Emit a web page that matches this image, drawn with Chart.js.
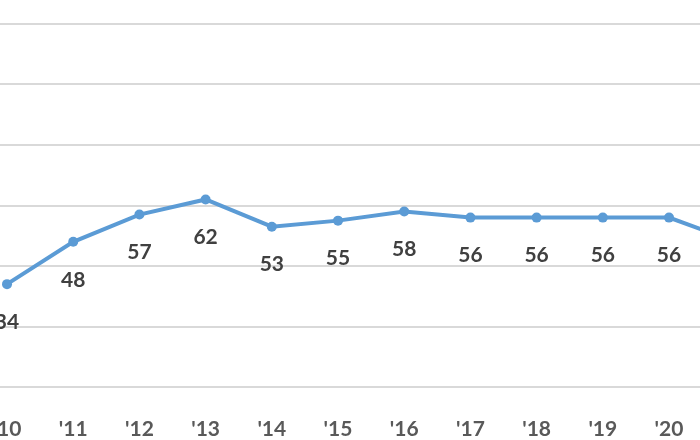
<!DOCTYPE html>
<html>
<head>
<meta charset="utf-8">
<script src="https://cdn.jsdelivr.net/npm/chart.js@4"></script>
<style>
  html, body { margin: 0; padding: 0; background: #fff; overflow: hidden; }
  #wrap { width: 700px; height: 440px; position: relative; }
</style>
</head>
<body>
<div id="wrap"><canvas id="chart"></canvas></div>
<script>
    // Годы и значения
    const years = ["'10", "'11", "'12", "'13", "'14", "'15", "'16", "'17", "'18", "'19", "'20", "'21"];
    const values = [34, 48, 57, 62, 53, 55, 58, 56, 56, 56, 56, 48];
    const yTicks = [0, 20, 40, 60, 80, 100, 120];

    const points = values.map((v, i) => ({ x: i, y: v }));
    const xMin = -0.106, xMax = 10.468;

    // Подписи значений под точками
    const valueLabels = {
        id: 'valueLabels',
        afterDatasetsDraw(chart) {
            const ctx = chart.ctx;
            const xs = chart.scales.x, ys = chart.scales.y;
            ctx.save();
            ctx.font = 'bold 21px Lato';
            ctx.fillStyle = '#404040';
            ctx.textAlign = 'center';
            ctx.textBaseline = 'middle';
            values.forEach((v, i) => {
                ctx.fillText(String(v), xs.getPixelForValue(i), ys.getPixelForValue(v) + 38);
            });
            ctx.restore();
        }
    };

    new Chart(document.getElementById('chart'), {
        type: 'line',
        data: {
            datasets: [{
                data: points,
                borderColor: '#5B9BD5',
                backgroundColor: '#5B9BD5',
                borderWidth: 4,
                pointRadius: 5,
                pointBorderWidth: 0,
                tension: 0
            }]
        },
        options: {
            responsive: true,
            maintainAspectRatio: false,
            animation: false,
            layout: { autoPadding: false, padding: { top: 24, bottom: 0, left: 0, right: 0 } },
            plugins: { legend: { display: false }, tooltip: { enabled: false } },
            scales: {
                x: {
                    type: 'linear',
                    min: xMin,
                    max: xMax,
                    afterBuildTicks: scale => {
                        scale.ticks = years.map((y, i) => ({ value: i })).filter(t => t.value >= xMin && t.value <= xMax);
                    },
                    afterFit: scale => {
                        scale.height = 53;
                        scale.paddingLeft = 0;
                        scale.paddingRight = 0;
                    },
                    ticks: {
                        autoSkip: false,
                        maxRotation: 0,
                        padding: 22,
                        color: '#595959',
                        font: { family: 'Lato', size: 21, weight: 'bold' },
                        callback: (val) => years[val] || ''
                    },
                    grid: { display: false },
                    border: { display: false }
                },
                y: {
                    min: 0,
                    max: 120,
                    afterBuildTicks: scale => { scale.ticks = yTicks.map(v => ({ value: v })); },
                    afterFit: scale => {
                        scale.width = 0;
                        scale.paddingTop = 0;
                        scale.paddingBottom = 0;
                    },
                    ticks: { display: false, padding: 0 },
                    grid: { color: '#d9d9d9', lineWidth: 2, drawTicks: false },
                    border: { display: false }
                }
            }
        },
        plugins: [valueLabels]
    });
</script>
</body>
</html>
